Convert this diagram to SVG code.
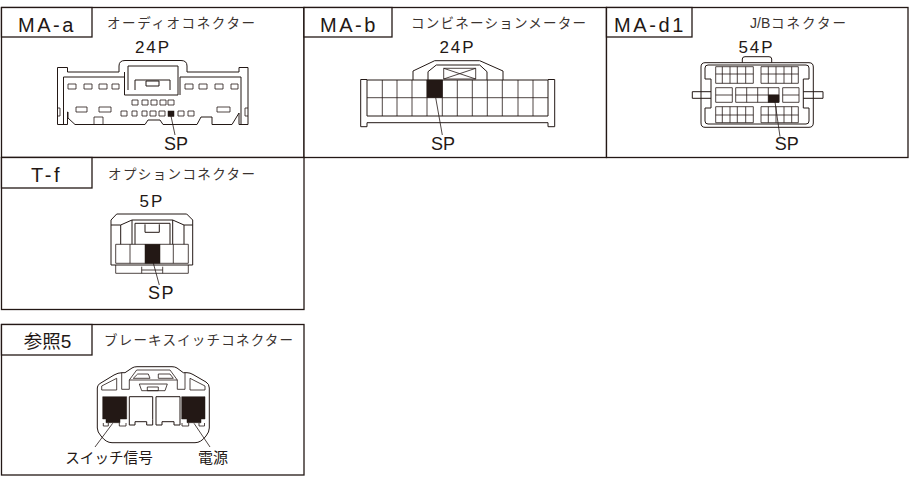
<svg xmlns="http://www.w3.org/2000/svg" width="914" height="477" viewBox="0 0 914 477">
<style>
text{fill:#231815;font-family:"Liberation Sans","Noto Sans CJK JP",sans-serif}
.jp{font-family:"Noto Sans CJK JP",sans-serif;font-size:13.500px;fill:#3a3330}
.id{font-size:20px;letter-spacing:2.600px;text-anchor:middle}
.pin{font-size:17px;letter-spacing:2px;text-anchor:middle}
.sp{font-size:18px;text-anchor:middle}
.frame{fill:#fff;stroke:#231815;stroke-width:1.300}
.l{fill:none;stroke:#231815;stroke-width:.8;stroke-linejoin:round}
.t{fill:none;stroke:#231815;stroke-width:1;stroke-linejoin:round}
.k{fill:#231815;stroke:#231815;stroke-width:.5}
</style>
<rect width="914" height="477" fill="#fff"/>

<g id="panel-ma-a">
<rect class="frame" x="1.500" y="7.500" width="302.500" height="150"/>
<rect class="frame" x="1.500" y="7.500" width="90.500" height="29.500"/>
<text class="id" x="47" y="32">MA-a</text>
<text class="jp" x="107" y="28" textLength="148">オーディオコネクター</text>
<text class="pin" x="153" y="53">24P</text>
<path class="t" d="M57.500 124.500V67.500H67.500V72H119V66Q119 60.500 125 60.500H181Q187 60.500 187 66V72H239V67.500H248V124.500H239V113L232 124.500H212V117H201L197 124.500H163L160 120H148L145 124.500H75L68 118V112H67.500V124.500Z"/>
<path class="t" d="M63.500 124.500V77H124M124.500 72V95H178V66H128V90M180 95V77H241V124.500M135 90V80H170V90M146 81H159V86H146Z"/>
<path class="l" d="M57.500 108H60V116H57.500M248 108H245V116H248"/>
<g class="l">
<rect x="68" y="84" width="8" height="5"/><rect x="84" y="84" width="8" height="5"/><rect x="99" y="84" width="8" height="5"/><rect x="112" y="84" width="7" height="5"/>
<rect x="185" y="84" width="8" height="5"/><rect x="199" y="84" width="8" height="5"/><rect x="215" y="84" width="8" height="5"/><rect x="231" y="84" width="7" height="5"/>
<rect x="132" y="100" width="6" height="5"/><rect x="142" y="100" width="6" height="5"/><rect x="151" y="100" width="6" height="5"/><rect x="160" y="100" width="6" height="5"/><rect x="168" y="100" width="6" height="5"/>
<rect x="121" y="111" width="6" height="5"/><rect x="132" y="111" width="5" height="5"/><rect x="142" y="111" width="5" height="5"/><rect x="150" y="111" width="6" height="5"/><rect x="159" y="111" width="6" height="5"/><rect x="178" y="111" width="6" height="5"/><rect x="188" y="111" width="6" height="5"/>
<rect x="76" y="107" width="11" height="5"/><rect x="99" y="107" width="12" height="5"/><rect x="217" y="107" width="13" height="5"/>
<rect x="94" y="117" width="9" height="7.500"/>
</g>
<rect class="k" x="168" y="111" width="6" height="5.500"/>
<text class="sp" x="176" y="150">SP</text>
</g>

<g id="panel-ma-b">
<rect class="frame" x="304" y="7.500" width="302.500" height="150"/>
<rect class="frame" x="304" y="7.500" width="88" height="29.500"/>
<text class="id" x="349" y="32">MA-b</text>
<text class="jp" x="411" y="28" textLength="175">コンビネーションメーター</text>
<text class="pin" x="457.500" y="53">24P</text>
<path class="t" d="M367 79.500H360.700V126.700H367V122.700H548V126.700H554.700V79.500H548M367 80H548V116H367ZM413 80V71L434.700 60.700H479.700L503 71V80M428 80V71.700L436.300 65H479.700L487 71.700V80"/>
<path class="l" d="M382.300 80V116M397 80V116M412 80V116M427 80V116M442.300 80V116M457.300 80V116M472.300 80V116M487.300 80V116M502.300 80V116M518 80V116M533 80V116M367 97.700H548M443.700 68.300H475.700V79H443.700ZM443.700 68.300L475.700 79M475.700 68.300L443.700 79"/>
<rect class="k" x="427" y="80" width="15.300" height="17.700"/>
<text class="sp" x="443" y="150">SP</text>
</g>

<g id="panel-ma-d1">
<rect class="frame" x="606.500" y="7.500" width="301.500" height="150"/>
<rect class="frame" x="606.500" y="7.500" width="85.500" height="29.500"/>
<text class="id" x="650" y="32">MA-d1</text>
<text x="750" y="28" font-size="14" style="fill:#3a3330">J/B</text>
<text class="jp" x="771" y="28" textLength="75">コネクター</text>
<text class="pin" x="756.500" y="53">54P</text>
<path class="t" d="M742.300 62.700V59Q742.300 56.700 745 56.700H769Q771.700 56.700 771.700 59V62.700M705 62.700H809Q813.300 62.700 813.300 67V123Q813.300 127.300 809 127.300H705Q701 127.300 701 123V67Q701 62.700 705 62.700Z"/>
<path class="t" d="M708 65H806Q809 65 809 68V79H803.300V108H809V121Q809 124 806 124H708Q705 124 705 121V108H711V79H705V68Q705 65 708 65Z"/>
<path class="t" d="M711 91.700H692.300V98.300H711M803.300 91.700H823V98.300H803.300"/>
<path class="l" d="M715.700 66.700H753.300V83.300H715.700ZM761 66.700H798.300V83.300H761ZM715.700 74H753.300M761 74H798.300M722.300 66.700V83.300M730 66.700V83.300M737.300 66.700V83.300M745.700 66.700V83.300M768.300 66.700V83.300M776 66.700V83.300M784 66.700V83.300M791.700 66.700V83.300"/>
<path class="l" d="M715.700 87.700H732.300V102.300H715.700ZM735.700 87.700H779V102.300H735.700ZM782.700 87.700H799V102.300H782.700ZM715.700 95H732.300M735.700 95H779M782.700 95H799M746.700 87.700V102.300M757.700 87.700V102.300M768.300 87.700V102.300"/>
<path class="l" d="M715.700 106.700H753.300V122.700H715.700ZM761 106.700H798.300V122.700H761ZM715.700 115H753.300M761 115H798.300M722.300 106.700V122.700M730 106.700V122.700M737.300 106.700V122.700M745.700 106.700V122.700M768.300 106.700V122.700M776 106.700V122.700M784 106.700V122.700M791.700 106.700V122.700"/>
<rect class="k" x="768.300" y="95" width="10.700" height="7.300"/>
<text class="sp" x="786.700" y="150">SP</text>
</g>

<g id="panel-t-f">
<rect class="frame" x="1.500" y="157.500" width="302.500" height="152"/>
<rect class="frame" x="1.500" y="157.500" width="90.500" height="30.500"/>
<text class="id" x="46.500" y="182">T-f</text>
<text class="jp" x="108" y="179" textLength="147">オプションコネクター</text>
<text class="pin" x="152" y="207">5P</text>
<path class="t" d="M111 265V220L116.700 214H186.700L192.700 220V265ZM111 225H120.700L132 220H172.700L184 225H192.700M120.700 225V244.300M184 225V244.300M132 220V244.300M172.700 220V244.300M135 244.300V223.300H170V244.300M145 224.300V232.300H159.300V224.300"/>
<path class="l" d="M115.700 244.300H188.300V263.300H115.700ZM130 244.300V263.300M173.300 244.300V263.300M115.700 265V273.300H188.300V265M141.700 266.700V273.300M162.700 266.700V273.300M141.700 270H162.700"/>
<rect class="k" x="145" y="244.300" width="15" height="19"/>
<text class="sp" x="161.500" y="299" letter-spacing="1.500">SP</text>
</g>

<g id="panel-brake">
<rect class="frame" x="1.500" y="324.500" width="302.500" height="150.500"/>
<rect class="frame" x="1.500" y="324.500" width="90.500" height="30.500"/>
<text x="47.500" y="348" font-size="18.500" text-anchor="middle" style="font-family:'Noto Sans CJK JP',sans-serif">参照<tspan font-family="Liberation Sans" font-size="19">5</tspan></text>
<text class="jp" x="104" y="345" textLength="189">ブレーキスイッチコネクター</text>
<path class="t" d="M97.300 428V388Q97.300 385 100 383.500L114 375Q118 372.700 122 372.700H125L132 368Q134 366.700 137 366.700H172Q175 366.700 177 368L183.300 372.700H187Q190 372.700 193 374.500L206 382Q209.300 384 209.300 388V428Q209.300 432 206 436Q201 442.700 195 442.700H112Q106 442.700 101 436Q97.300 432 97.300 428Z"/>
<path class="l" d="M101.700 390V386L116.700 378.300V390ZM190 378.300L205 386V390H190ZM121.700 372.700V389.300H129.300V380L136.700 370H170L177.300 380V389.300H185V372.700M129.300 380H177.300"/>
<path class="l" d="M133.300 378.300L137.700 374H148.300L150 378.300ZM158.300 378.300V374H170L173.300 378.300ZM139.300 384H167.300L165 390.700H141.700ZM147.300 387H158.300V390.700H147.300Z"/>
<path class="k" d="M102.700 396.700H126.700V419H120V422.700H106V419H102.700ZM181.700 396.700H205V419H201V422.700H187V419H181.700Z"/>
<path class="t" d="M129.300 396.700H152.700V419.300V425H146.700V421.700H135V425H129.300ZM156 396.700H180V425H174V421.700H162V425H156Z"/>
<path class="l" d="M103.300 423V426H108.300V423M119.300 423V426H126V423M182 423V426H188.700V423M199 423V426H204.500V423"/>
<text x="109" y="463" font-size="14.600" text-anchor="middle" style="font-family:'Noto Sans CJK JP',sans-serif">スイッチ信号</text>
<text x="213" y="463" font-size="15" text-anchor="middle" style="font-family:'Noto Sans CJK JP',sans-serif">電源</text>
</g>

<g id="connectors" class="l">
<path d="M171 116L175 135"/>
<path d="M435.700 97.700L442.300 135"/>
<path d="M775 102L780 136.700"/>
<path d="M153.300 263L159.300 285"/>
<path d="M112.700 423.300L95 447"/>
<path d="M194 423.300L210 447"/>
</g>
</svg>
